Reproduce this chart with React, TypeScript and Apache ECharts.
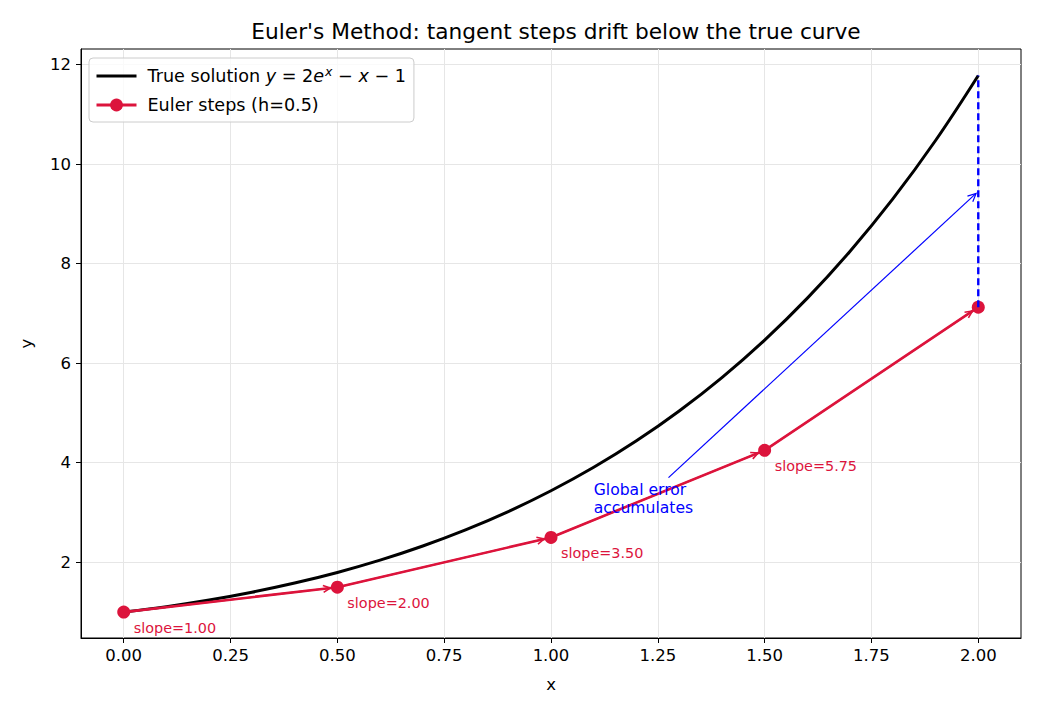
import React, { useEffect, useRef } from "react";
import * as echarts from "echarts";

// True solution y = 2e^x - x - 1, values read at x = 0, 0.1, ..., 2.0
const trueX = [0, 0.1, 0.2, 0.3, 0.4, 0.5, 0.6, 0.7, 0.8, 0.9, 1.0, 1.1, 1.2, 1.3, 1.4, 1.5, 1.6, 1.7, 1.8, 1.9, 2.0];
const trueY = [1.0, 1.11, 1.243, 1.4, 1.584, 1.797, 2.044, 2.328, 2.651, 3.019, 3.437, 3.908, 4.44, 5.039, 5.71, 6.463, 7.306, 8.248, 9.299, 10.472, 11.778];

// Euler steps (h = 0.5)
const eulerX = [0, 0.5, 1.0, 1.5, 2.0];
const eulerY = [1.0, 1.5, 2.5, 4.25, 7.125];
const slopeLabels = ["slope=1.00", "slope=2.00", "slope=3.50", "slope=5.75"];

// axes
const xTicks = [0, 0.25, 0.5, 0.75, 1.0, 1.25, 1.5, 1.75, 2.0];
const yTicks = [2, 4, 6, 8, 10, 12];
const xRange = [-0.1, 2.1];
const yRange = [0.48, 12.31];

// annotation: global error
const errorArrow = [1.275, 3.7, 2.0, 9.45];
const errorTextPos = [1.1, 2.92];
const errorText = "Global error\naccumulates";

const FONT = "DejaVu Sans";
const CRIMSON = "#DC143C";

function arrowHead(tip: number[], from: number[], len: number, color: string, lw: number) {
  const ang = Math.atan2(tip[1] - from[1], tip[0] - from[0]);
  const a1 = ang + Math.PI - 0.45;
  const a2 = ang + Math.PI + 0.45;
  return {
    type: "polyline",
    shape: {
      points: [
        [tip[0] + len * Math.cos(a1), tip[1] + len * Math.sin(a1)],
        tip,
        [tip[0] + len * Math.cos(a2), tip[1] + len * Math.sin(a2)],
      ],
    },
    style: { stroke: color, lineWidth: lw, fill: "none" },
  };
}

function shrink(p0: number[], p1: number[], s: number) {
  const dx = p1[0] - p0[0];
  const dy = p1[1] - p0[1];
  const d = Math.sqrt(dx * dx + dy * dy);
  return [p1[0] - (dx / d) * s, p1[1] - (dy / d) * s];
}

export default function App() {
  const ref = useRef<HTMLDivElement>(null);
  useEffect(() => {
    document.body.style.margin = "0";
    const chart = echarts.init(ref.current!, null, { renderer: "svg" });

    const eulerSegments = eulerX.slice(0, -1).map((x, i) => [x, eulerY[i], eulerX[i + 1], eulerY[i + 1]]);
    const slopePts = eulerX.slice(0, -1).map((x, i) => [x, eulerY[i]]);

    const option: any = {
      animation: false,
      backgroundColor: "#fff",
      title: {
        text: "Euler's Method: tangent steps drift below the true curve",
        left: 551,
        textAlign: "center",
        top: 15,
        textStyle: { fontFamily: FONT, fontSize: 21.7, fontWeight: "normal", color: "#000" },
      },
      grid: {
        left: 81,
        right: 19,
        top: 49,
        bottom: 77,
        show: true,
        borderColor: "#000",
        borderWidth: 1,
        backgroundColor: "transparent",
      },
      legend: {
        orient: "vertical",
        left: 89,
        top: 58,
        padding: [7, 8, 8, 6],
        itemGap: 11,
        itemWidth: 40,
        itemHeight: 16,
        backgroundColor: "rgba(255,255,255,0.8)",
        borderColor: "#cccccc",
        borderWidth: 1,
        borderRadius: 4,
        data: [
          { name: "True solution", itemStyle: { opacity: 0 }, lineStyle: { width: 3, color: "#000" } },
          { name: "Euler steps (h=0.5)", lineStyle: { width: 2.8, color: CRIMSON } },
        ],
        formatter: (name: string) =>
          name === "True solution"
            ? "{n|True solution }{i|y}{n| = 2}{i|e}{s|x}{n| − }{i|x}{n| − 1}"
            : "{n|" + name + "}",
        textStyle: {
          fontFamily: FONT,
          fontSize: 17.6,
          color: "#000",
          padding: [0, 0, 0, 6],
          rich: {
            n: { fontFamily: FONT, fontSize: 17.6, color: "#000", lineHeight: 22, verticalAlign: "middle" },
            i: { fontFamily: FONT, fontSize: 17.6, fontStyle: "italic", color: "#000", lineHeight: 22, verticalAlign: "middle" },
            s: { fontFamily: FONT, fontSize: 12.5, fontStyle: "italic", color: "#000", lineHeight: 12, verticalAlign: "top", padding: [0, 0, 0, 1] },
          },
        },
      },
      xAxis: {
        type: "value",
        min: xRange[0],
        max: xRange[1],
        name: "x",
        nameLocation: "middle",
        nameGap: 38,
        nameTextStyle: { fontFamily: FONT, fontSize: 16.5, color: "#000" },
        axisLine: { show: true, onZero: false, lineStyle: { color: "#000", width: 1 } },
        axisTick: { show: true, customValues: xTicks, length: 5, lineStyle: { color: "#000", width: 1 } },
        axisLabel: {
          customValues: xTicks,
          formatter: (v: number) => v.toFixed(2),
          fontFamily: FONT,
          fontSize: 16.5,
          color: "#000",
          margin: 9,
        },
        splitLine: { show: true, lineStyle: { color: "#e6e6e6", width: 1 } },
      },
      yAxis: {
        type: "value",
        min: yRange[0],
        max: yRange[1],
        name: "y",
        nameLocation: "middle",
        nameGap: 46,
        nameTextStyle: { fontFamily: FONT, fontSize: 16.5, color: "#000" },
        axisLine: { show: true, onZero: false, lineStyle: { color: "#000", width: 1 } },
        axisTick: { show: true, customValues: yTicks, length: 5, lineStyle: { color: "#000", width: 1 } },
        axisLabel: {
          customValues: yTicks,
          formatter: (v: number) => String(v),
          fontFamily: FONT,
          fontSize: 16.5,
          color: "#000",
          margin: 10,
        },
        splitLine: { show: true, lineStyle: { color: "#e6e6e6", width: 1 } },
      },
      series: [
        {
          name: "True solution",
          type: "line",
          data: trueX.map((x, i) => [x, trueY[i]]),
          smooth: 0.4,
          symbol: "none",
          color: "#000",
          lineStyle: { color: "#000", width: 3 },
          z: 2,
        },
        {
          name: "Euler steps (h=0.5)",
          type: "line",
          data: eulerX.map((x, i) => [x, eulerY[i]]),
          symbol: "circle",
          symbolSize: 13,
          color: CRIMSON,
          itemStyle: { color: CRIMSON },
          lineStyle: { color: CRIMSON, width: 2.6 },
          z: 3,
        },
        {
          name: "error",
          type: "line",
          data: [
            [eulerX[eulerX.length - 1], eulerY[eulerY.length - 1]],
            [trueX[trueX.length - 1], trueY[trueY.length - 1]],
          ],
          symbol: "none",
          lineStyle: { color: "#0000ff", width: 2.4, type: [7, 4] },
          z: 4,
        },
        {
          name: "eulerArrows",
          type: "custom",
          data: eulerSegments,
          encode: { x: [0, 2], y: [1, 3] },
          z: 5,
          renderItem: (params: any, api: any) => {
            const p0 = api.coord([api.value(0), api.value(1)]);
            const p1 = api.coord([api.value(2), api.value(3)]);
            const tip = shrink(p0, p1, 7);
            return {
              type: "group",
              children: [
                { type: "line", shape: { x1: p0[0], y1: p0[1], x2: tip[0], y2: tip[1] }, style: { stroke: CRIMSON, lineWidth: 1.6 } },
                arrowHead(tip, p0, 8, CRIMSON, 1.6),
              ],
            };
          },
        },
        {
          name: "slopeLabels",
          type: "custom",
          data: slopePts,
          encode: { x: 0, y: 1 },
          z: 6,
          renderItem: (params: any, api: any) => {
            const p = api.coord([api.value(0), api.value(1)]);
            return {
              type: "text",
              x: p[0] + 10,
              y: p[1] + 16,
              style: {
                text: slopeLabels[params.dataIndex],
                fill: CRIMSON,
                font: "14.4px 'DejaVu Sans'",
                align: "left",
                verticalAlign: "middle",
              },
            };
          },
        },
        {
          name: "errorArrow",
          type: "custom",
          data: [errorArrow],
          encode: { x: [0, 2], y: [1, 3] },
          z: 7,
          renderItem: (params: any, api: any) => {
            const p0 = api.coord([api.value(0), api.value(1)]);
            const p1 = api.coord([api.value(2), api.value(3)]);
            const tip = shrink(p0, p1, 3);
            const tp = api.coord(errorTextPos);
            return {
              type: "group",
              children: [
                { type: "line", shape: { x1: p0[0], y1: p0[1], x2: tip[0], y2: tip[1] }, style: { stroke: "#0000ff", lineWidth: 1.2 } },
                arrowHead(tip, p0, 9, "#0000ff", 1.2),
                {
                  type: "text",
                  x: tp[0],
                  y: tp[1],
                  style: {
                    text: errorText,
                    fill: "#0000ff",
                    font: "15.6px 'DejaVu Sans'",
                    lineHeight: 17.5,
                    align: "left",
                    verticalAlign: "bottom",
                  },
                },
              ],
            };
          },
        },
      ],
    };
    chart.setOption(option);
    return () => chart.dispose();
  }, []);
  return <div ref={ref} style={{ width: 1040, height: 715 }} />;
}
